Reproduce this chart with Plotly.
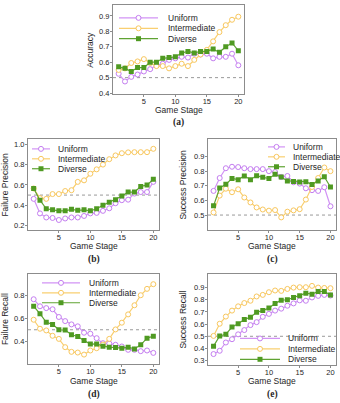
import plotly.graph_objects as go

W, H = 340, 403

stages = list(range(1, 21))
series_names = ["Uniform", "Intermediate", "Diverse"]
x_ticks = [5, 10, 15, 20]

# (a) Accuracy
acc_uniform = [0.525, 0.475, 0.505, 0.52, 0.54, 0.555, 0.58, 0.59, 0.615, 0.625,
               0.635, 0.63, 0.655, 0.65, 0.655, 0.625, 0.635, 0.635, 0.655, 0.58]
acc_inter = [0.55, 0.56, 0.595, 0.605, 0.62, 0.595, 0.575, 0.575, 0.56, 0.575,
             0.59, 0.575, 0.615, 0.65, 0.68, 0.735, 0.795, 0.84, 0.875, 0.895]
acc_diverse = [0.57, 0.56, 0.54, 0.565, 0.565, 0.60, 0.60, 0.625, 0.63, 0.635,
               0.66, 0.67, 0.66, 0.67, 0.67, 0.685, 0.665, 0.70, 0.725, 0.675]
acc_yticks = [0.4, 0.5, 0.6, 0.7, 0.8, 0.9]

# (b) Failure Precision
fp_uniform = [0.463, 0.32, 0.28, 0.275, 0.255, 0.27, 0.28, 0.28, 0.295, 0.32,
              0.325, 0.345, 0.37, 0.42, 0.45, 0.455, 0.515, 0.53, 0.53, 0.63]
fp_inter = [0.565, 0.47, 0.463, 0.51, 0.51, 0.54, 0.548, 0.63, 0.645, 0.71,
            0.753, 0.80, 0.853, 0.89, 0.912, 0.92, 0.922, 0.922, 0.922, 0.955]
fp_diverse = [0.565, 0.45, 0.365, 0.355, 0.345, 0.345, 0.36, 0.35, 0.355, 0.345,
              0.365, 0.40, 0.43, 0.455, 0.49, 0.53, 0.53, 0.585, 0.60, 0.655]
fp_yticks = [0.2, 0.4, 0.6, 0.8, 1.0]

# (c) Success Precision
sp_uniform = [0.665, 0.753, 0.82, 0.83, 0.828, 0.82, 0.814, 0.814, 0.814, 0.80,
              0.794, 0.76, 0.767, 0.724, 0.715, 0.683, 0.67, 0.665, 0.69, 0.56]
sp_inter = [0.518, 0.633, 0.68, 0.656, 0.676, 0.62, 0.586, 0.552, 0.538, 0.53,
            0.534, 0.484, 0.523, 0.532, 0.54, 0.606, 0.692, 0.753, 0.825, 0.80]
sp_diverse = [0.563, 0.685, 0.71, 0.75, 0.742, 0.767, 0.742, 0.769, 0.758, 0.75,
              0.778, 0.76, 0.733, 0.73, 0.726, 0.728, 0.708, 0.733, 0.762, 0.692]
sp_yticks = [0.5, 0.6, 0.7, 0.8, 0.9]

# (d) Failure Recall
fr_uniform = [0.768, 0.706, 0.69, 0.68, 0.612, 0.576, 0.547, 0.53, 0.474, 0.465,
              0.426, 0.382, 0.38, 0.368, 0.353, 0.324, 0.324, 0.312, 0.318, 0.297]
fr_inter = [0.588, 0.509, 0.494, 0.447, 0.42, 0.347, 0.306, 0.30, 0.282, 0.318,
            0.338, 0.37, 0.42, 0.503, 0.562, 0.635, 0.715, 0.803, 0.859, 0.90]
fr_diverse = [0.706, 0.641, 0.565, 0.547, 0.50, 0.497, 0.456, 0.441, 0.406, 0.374,
              0.376, 0.356, 0.347, 0.344, 0.338, 0.347, 0.332, 0.368, 0.426, 0.444]
fr_yticks = [0.4, 0.6, 0.8]

# (e) Success Recall
sr_uniform = [0.354, 0.381, 0.449, 0.476, 0.516, 0.551, 0.592, 0.616, 0.66, 0.684,
              0.711, 0.727, 0.751, 0.77, 0.795, 0.792, 0.819, 0.832, 0.84, 0.835]
sr_inter = [0.503, 0.603, 0.662, 0.711, 0.746, 0.773, 0.792, 0.827, 0.84, 0.862,
            0.876, 0.873, 0.889, 0.90, 0.903, 0.903, 0.914, 0.90, 0.897, 0.895]
sr_diverse = [0.419, 0.503, 0.516, 0.576, 0.603, 0.638, 0.657, 0.697, 0.711, 0.732,
              0.77, 0.797, 0.80, 0.819, 0.832, 0.854, 0.846, 0.868, 0.868, 0.84]
sr_yticks = [0.3, 0.4, 0.5, 0.6, 0.7, 0.8, 0.9]

chance_level = 0.5

# styles
COLORS = ["#C47EF0", "#F8C75E", "#4F9A22"]
LINE_COLORS = ["#D293F5", "#F9CF70", "#5FA332"]
FONT = "Liberation Sans, Arial, sans-serif"
TEXT = "#262626"
FRAME = "#8C8C8C"

# panel layout (pixel frames: left, right, top, bottom)
panels = [
    dict(label="(a)", ylabel="Accuracy", data=[acc_uniform, acc_inter, acc_diverse],
         yticks=acc_yticks, frame=(113, 244, 5, 95), yrange=(0.392, 0.971),
         leg=dict(x0=119, length=39, gap=8, rows=(18, 28.5, 39)),
         ytitle_x=90, xtitle_y=111, label_y=123),
    dict(label="(b)", ylabel="Failure Precision", data=[fp_uniform, fp_inter, fp_diverse],
         yticks=fp_yticks, frame=(28, 159, 140, 232), yrange=(0.154, 1.052),
         leg=dict(x0=32, length=18, gap=6, rows=(150, 160, 170)),
         ytitle_x=5, xtitle_y=248, label_y=261),
    dict(label="(c)", ylabel="Success Precision", data=[sp_uniform, sp_inter, sp_diverse],
         yticks=sp_yticks, frame=(208, 336, 140, 232), yrange=(0.396, 1.02),
         leg=dict(x0=268, length=17, gap=6, rows=(148, 158, 168)),
         ytitle_x=183, xtitle_y=248, label_y=261),
    dict(label="(d)", ylabel="Failure Recall", data=[fr_uniform, fr_inter, fr_diverse],
         yticks=fr_yticks, frame=(28, 159, 276, 367), yrange=(0.197, 0.99),
         leg=dict(x0=42, length=38, gap=7, rows=(285, 295, 305)),
         ytitle_x=5, xtitle_y=384, label_y=397),
    dict(label="(e)", ylabel="Success Recall", data=[sr_uniform, sr_inter, sr_diverse],
         yticks=sr_yticks, frame=(208, 336, 276, 368), yrange=(0.262, 1.012),
         leg=dict(x0=240, length=40, gap=6, rows=(341, 351.5, 362)),
         ytitle_x=183, xtitle_y=384, label_y=397),
]


def px(x):
    return x / W


def py(y):
    return 1 - y / H


fig = go.Figure()
shapes = []
annotations = []
layout_axes = {}

for i, p in enumerate(panels):
    n = i + 1
    xa = "x" if n == 1 else f"x{n}"
    ya = "y" if n == 1 else f"y{n}"
    xkey = "xaxis" if n == 1 else f"xaxis{n}"
    ykey = "yaxis" if n == 1 else f"yaxis{n}"
    l, r, t, b = p["frame"]

    common = dict(showline=True, mirror=True, linecolor=FRAME, linewidth=1,
                  ticks="outside", ticklen=2, tickwidth=1, tickcolor=FRAME,
                  showgrid=False, zeroline=False,
                  tickfont=dict(family=FONT, size=7.5, color=TEXT))
    layout_axes[xkey] = dict(common, domain=[px(l), px(r)], anchor=ya,
                             range=[0.1, 20.9], tickvals=x_ticks,
                             ticklabelstandoff=-2)
    layout_axes[ykey] = dict(common, domain=[py(b), py(t)], anchor=xa,
                             range=list(p["yrange"]), tickvals=p["yticks"],
                             tickformat=".1f", ticklabelstandoff=-1)

    # chance line
    shapes.append(dict(type="line", xref=f"{xa} domain", yref=ya, x0=0, x1=1,
                       y0=chance_level, y1=chance_level, layer="below",
                       line=dict(color="#9A9A9A", width=1, dash="dot")))

    for s, (name, vals) in enumerate(zip(series_names, p["data"])):
        if s < 2:
            marker = dict(symbol="circle", size=5, color="white",
                          line=dict(color=COLORS[s], width=1))
        else:
            marker = dict(symbol="square", size=5, color=COLORS[s],
                          line=dict(color=COLORS[s], width=0))
        fig.add_trace(go.Scatter(x=stages, y=vals, mode="lines+markers", name=name,
                                 xaxis=xa, yaxis=ya, showlegend=False,
                                 line=dict(color=LINE_COLORS[s], width=1.2),
                                 marker=marker))

    # manual legend
    lg = p["leg"]
    for s, name in enumerate(series_names):
        yy = lg["rows"][s]
        x0 = lg["x0"]
        x1 = x0 + lg["length"]
        cx = (x0 + x1) / 2
        shapes.append(dict(type="line", xref="paper", yref="paper",
                           x0=px(x0), x1=px(x1), y0=py(yy), y1=py(yy),
                           line=dict(color=LINE_COLORS[s], width=1.2)))
        rr = 2.5
        if s < 2:
            shapes.append(dict(type="circle", xref="paper", yref="paper",
                               x0=px(cx - rr), x1=px(cx + rr), y0=py(yy + rr), y1=py(yy - rr),
                               fillcolor="white", line=dict(color=COLORS[s], width=1)))
        else:
            shapes.append(dict(type="rect", xref="paper", yref="paper",
                               x0=px(cx - rr), x1=px(cx + rr), y0=py(yy + rr), y1=py(yy - rr),
                               fillcolor=COLORS[s], line=dict(color=COLORS[s], width=0)))
        annotations.append(dict(text=name, xref="paper", yref="paper",
                                x=px(x1 + lg["gap"]), y=py(yy), xanchor="left",
                                yanchor="middle", showarrow=False,
                                font=dict(family=FONT, size=8.5, color=TEXT)))

    # axis titles and panel label
    annotations.append(dict(text="Game Stage", xref="paper", yref="paper",
                            x=px((l + r) / 2), y=py(p["xtitle_y"]), xanchor="center",
                            yanchor="middle", showarrow=False,
                            font=dict(family=FONT, size=8.5, color=TEXT)))
    annotations.append(dict(text=p["ylabel"], xref="paper", yref="paper",
                            x=px(p["ytitle_x"]), y=py((t + b) / 2), xanchor="center",
                            yanchor="middle", showarrow=False, textangle=-90,
                            font=dict(family=FONT, size=8.5, color=TEXT)))
    annotations.append(dict(text="<b>" + p["label"] + "</b>", xref="paper", yref="paper",
                            x=px((l + r) / 2), y=py(p["label_y"]), xanchor="center",
                            yanchor="middle", showarrow=False,
                            font=dict(family="Liberation Serif, Times New Roman, serif",
                                      size=9.5, color=TEXT)))

fig.update_layout(width=W, height=H, margin=dict(l=0, r=0, t=0, b=0),
                  paper_bgcolor="white", plot_bgcolor="white",
                  showlegend=False, shapes=shapes, annotations=annotations,
                  **layout_axes)

fig.write_html("out.html")
